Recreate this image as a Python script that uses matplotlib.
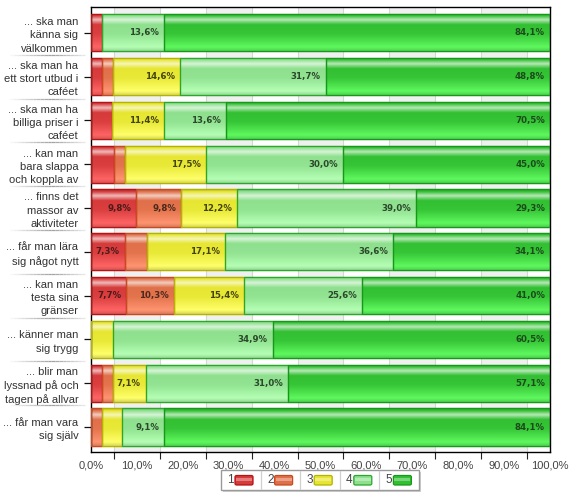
import numpy as np
import matplotlib
matplotlib.use("Agg")
import matplotlib.pyplot as plt
from matplotlib.colors import to_rgb
from matplotlib.patches import Rectangle, FancyBboxPatch

plt.rcParams['font.family'] = ['Liberation Sans', 'DejaVu Sans']

# ---------- data ----------
categories = [
    "... ska man\nkänna sig\nvälkommen",
    "... ska man ha\nett stort utbud i\ncaféet",
    "... ska man ha\nbilliga priser i\ncaféet",
    "... kan man\nbara slappa\noch koppla av",
    "... finns det\nmassor av\naktiviteter",
    "... får man lära\nsig något nytt",
    "... kan man\ntesta sina\ngränser",
    "... känner man\nsig trygg",
    "... blir man\nlyssnad på och\ntagen på allvar",
    "... får man vara\nsig själv",
]
s1 = [2.3, 2.4, 4.5, 5.0, 9.8, 7.3, 7.7, 0.0, 2.4, 0.0]
s2 = [0.0, 2.4, 0.0, 2.5, 9.8, 4.9, 10.3, 0.0, 2.4, 2.3]
s3 = [0.0, 14.6, 11.4, 17.5, 12.2, 17.1, 15.4, 4.7, 7.1, 4.5]
s4 = [13.6, 31.7, 13.6, 30.0, 39.0, 36.6, 25.6, 34.9, 31.0, 9.1]
s5 = [84.1, 48.8, 70.5, 45.0, 29.3, 34.1, 41.0, 60.5, 57.1, 84.1]
series = [s1, s2, s3, s4, s5]
legend_labels = ["1", "2", "3", "4", "5"]
x_ticks = [0, 10, 20, 30, 40, 50, 60, 70, 80, 90, 100]

# ---------- styles ----------
base_cols = ['#d63a3a', '#e0704a', '#e6e632', '#8ee08e', '#32c032']
light_cols = ['#ff6464', '#ff9470', '#ffff6a', '#b4ffb4', '#5ef85e']
edge_cols = ['#b41414', '#c84a1e', '#b4b400', '#2aa82a', '#18981a']
text_cols = ['#4a1c1c', '#4a2a1c', '#44440e', '#2c482c', '#1c4a1c']


def gradient(base, light, n=64):
    b = np.array(to_rgb(base))
    l = np.array(to_rgb(light))
    w = np.ones(3)
    stops = [0.0, 0.06, 0.17, 0.3, 0.55, 0.9, 1.0]
    cols = [b * 0.8, b, b * 0.35 + w * 0.65, b, b * 0.9 + l * 0.1, l, l * 0.85]
    t = np.linspace(0, 1, n)
    img = np.zeros((n, 1, 3))
    for c in range(3):
        img[:, 0, c] = np.interp(t, stops, [col[c] for col in cols])
    return img


fig = plt.figure(figsize=(5.8, 5.0), dpi=100)
ax = fig.add_axes([91 / 580, 48 / 500, 459 / 580, 445 / 500])

y = np.arange(len(categories))
bar_h = 0.85

# background bands and grid
for x0 in [5, 25, 45, 65, 85]:
    ax.axvspan(x0, x0 + 10, color='#f0f0f0', zorder=0, lw=0)
for xg in range(5, 100, 10):
    ax.axvline(xg, color='#d6d6d6', lw=0.8, zorder=0.5)

left = np.zeros(len(categories))
for i, vals in enumerate(series):
    vals = np.array(vals)
    bars = ax.barh(y, vals, left=left, height=bar_h, color=base_cols[i],
                   edgecolor=edge_cols[i], linewidth=0.9, zorder=2)
    img = gradient(base_cols[i], light_cols[i])
    for rect, v in zip(bars, vals):
        if v <= 0:
            continue
        x0, y0 = rect.get_x(), rect.get_y()
        w, h = rect.get_width(), rect.get_height()
        im = ax.imshow(img, extent=(x0, x0 + w, y0 + h, y0), origin='upper',
                       aspect='auto', zorder=2.5, interpolation='bilinear')
        im.set_clip_path(rect)
        ax.add_patch(Rectangle((x0, y0), w, h, fill=False, edgecolor=edge_cols[i],
                               lw=0.9, zorder=3))
    for yi, (l, v) in enumerate(zip(left, vals)):
        if v >= 7:
            ax.text(l + v - 1.1, yi, f"{v:.1f}".replace('.', ',') + '%',
                    ha='right', va='center', fontsize=6.2, fontweight='bold',
                    family='DejaVu Sans', color=text_cols[i], zorder=4)
    left += vals

ax.set_xlim(0, 100)
ax.set_ylim(9.57, -0.59)

ax.set_xticks(x_ticks)
ax.set_xticklabels([f"{t:.1f}".replace('.', ',') + '%' for t in x_ticks])
ax.set_xticks(range(5, 100, 10), minor=True)
ax.tick_params(axis='x', which='major', length=0, pad=6, labelsize=8, labelcolor='#444444')
ax.tick_params(axis='x', which='minor', length=5, color='#222222', width=0.8)

ax.set_yticks(y)
ax.set_yticklabels(categories, fontsize=8, color='#333333', ha='right',
                   linespacing=1.4)
ax.tick_params(axis='y', length=5, width=0.9, color='#111111', pad=4)

for sp in ax.spines.values():
    sp.set_color('black')
    sp.set_linewidth(1.0)

# separator lines between category labels
trans = ax.get_yaxis_transform()
xs = np.linspace(-0.176, -0.013, 21)
for k in range(len(categories) - 1):
    for j in range(len(xs) - 1):
        mid = (j + 0.5) / (len(xs) - 1)
        g = 0.62 + 0.33 * abs(mid - 0.55) * 2
        ax.plot(xs[j:j + 2], [k + 0.5, k + 0.5], transform=trans,
                color=(g, g, g), lw=0.9, clip_on=False, solid_capstyle='butt')

# ---------- legend ----------
lx0, ly0, lw_, lh = 221, 10, 198, 20
shadow = Rectangle(((lx0 + 2) / 580, (ly0 - 2) / 500), lw_ / 580, lh / 500,
                   transform=fig.transFigure, facecolor='#d0d0d0', edgecolor='none')
fig.patches.append(shadow)
box = Rectangle((lx0 / 580, ly0 / 500), lw_ / 580, lh / 500, transform=fig.transFigure,
                facecolor='white', edgecolor='#9a9a9a', lw=1)
fig.patches.append(box)
cell = lw_ / 5
for i, lab in enumerate(legend_labels):
    cx = lx0 + i * cell
    if i > 0:
        fig.lines.append(plt.Line2D([cx / 580, cx / 580], [(ly0 + 1) / 500, (ly0 + lh - 1) / 500],
                                    transform=fig.transFigure, color='#d0d0d0', lw=0.9))
    fig.text((cx + 13) / 580, (ly0 + lh / 2) / 500, lab, ha='right', va='center',
             fontsize=8.5, color='#444444')
    sw = FancyBboxPatch(((cx + 14) / 580, (ly0 + 5) / 500), 18 / 580, 9.5 / 500,
                        boxstyle='round,pad=0,rounding_size=0.003',
                        transform=fig.transFigure, facecolor=base_cols[i],
                        edgecolor=edge_cols[i], lw=0.9)
    fig.patches.append(sw)
    hl = Rectangle(((cx + 15) / 580, (ly0 + 9.5) / 500), 16 / 580, 2.5 / 500,
                   transform=fig.transFigure, facecolor='white', alpha=0.35, edgecolor='none')
    fig.patches.append(hl)

fig.savefig("out.png", dpi=100)
